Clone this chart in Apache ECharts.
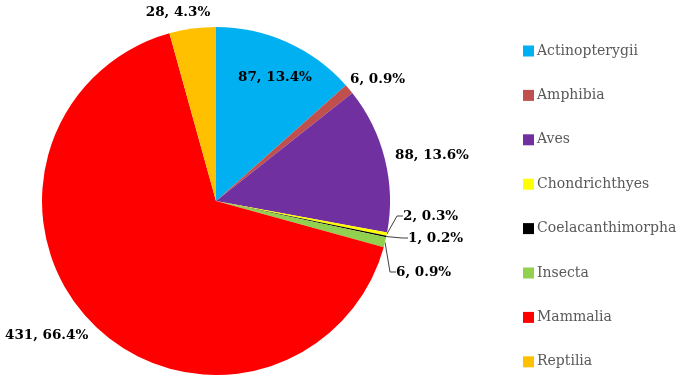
<!DOCTYPE html>
<html>
<head>
<meta charset="utf-8">
<script src="https://cdn.jsdelivr.net/npm/echarts@6/dist/echarts.min.js"></script>
<style>
  html, body { margin: 0; padding: 0; background: #fff; }
  #chart { width: 686px; height: 383px; }
</style>
</head>
<body>
<div id="chart"></div>
<script>
// classes and counts, clockwise from 12 o'clock
const classes = ['Actinopterygii', 'Amphibia', 'Aves', 'Chondrichthyes', 'Coelacanthimorpha', 'Insecta', 'Mammalia', 'Reptilia'];
const counts = [87, 6, 88, 2, 1, 6, 431, 28];
const colors = ['#00B0F0', '#C0504D', '#7030A0', '#FFFF00', '#000000', '#92D050', '#FF0000', '#FFC000'];

// where each label sits: [x, y, align, showLeader]
const labelSpots = [
  [275, 77, 'center', false],
  [350, 79, 'left', false],
  [395, 155, 'left', false],
  [403, 216, 'left', true],
  [408, 238, 'left', true],
  [396, 272, 'left', true],
  [5, 335, 'left', false],
  [178, 12, 'center', false]
];

const total = counts.reduce((a, b) => a + b, 0);

const chart = echarts.init(document.getElementById('chart'));
chart.setOption({
  animation: false,
  color: colors,
  legend: {
    orient: 'vertical',
    left: 523,
    top: 44,
    padding: 0,
    icon: 'rect',
    itemWidth: 11,
    itemHeight: 11,
    itemGap: 30.4,
    textStyle: { fontFamily: 'DejaVu Serif', fontSize: 14, color: '#595959', padding: [0, 0, 0, -2] },
    data: classes
  },
  series: [{
    type: 'pie',
    center: [216, 201],
    radius: 174,
    startAngle: 90,
    clockwise: true,
    itemStyle: { borderWidth: 0 },
    label: {
      show: true,
      fontFamily: 'DejaVu Serif',
      fontWeight: 'bold',
      fontSize: 13.5,
      color: '#000',
      overflow: 'none',
      formatter: p => p.value + ', ' + (p.value / total * 100).toFixed(1) + '%'
    },
    labelLine: { show: true, length: 8, length2: 6, lineStyle: { color: '#404040', width: 1 } },
    labelLayout: p => {
      const s = labelSpots[p.dataIndex];
      return { x: s[0], y: s[1], align: s[2], verticalAlign: 'middle' };
    },
    data: classes.map((c, i) => ({
      name: c,
      value: counts[i],
      labelLine: { show: labelSpots[i][3] }
    }))
  }]
});
</script>
</body>
</html>
